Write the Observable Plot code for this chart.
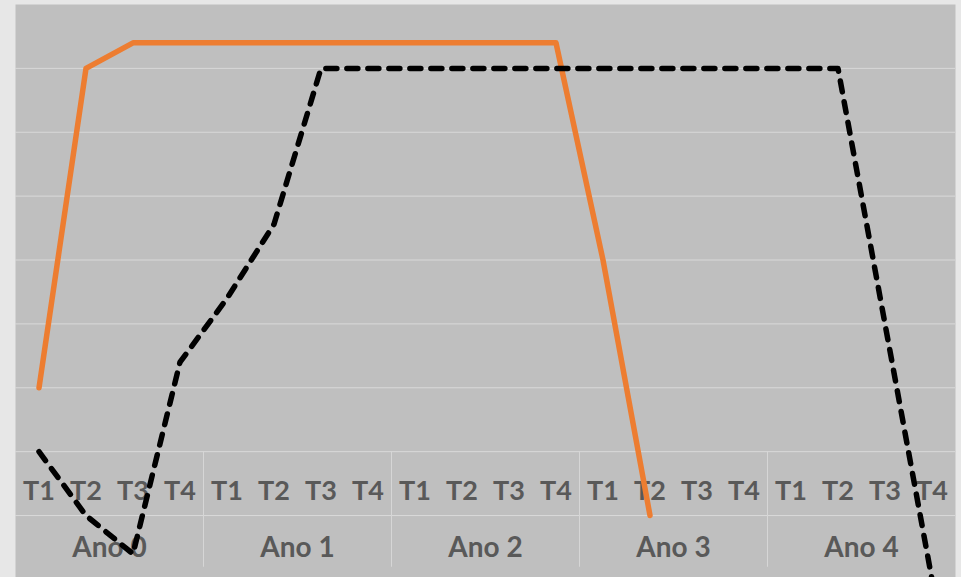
<!DOCTYPE html>
<html>
<head>
<meta charset="utf-8">
<script src="https://cdn.jsdelivr.net/npm/d3@7"></script>
<script src="https://cdn.jsdelivr.net/npm/@observablehq/plot@0.6"></script>
<style>
  html, body { margin: 0; padding: 0; background: #e7e7e7; }
  #chart svg { display: block; }
</style>
</head>
<body>
<div id="chart"></div>
<script>
// Category labels
const quarters = ["T1", "T2", "T3", "T4"];
const years = ["Ano 0", "Ano 1", "Ano 2", "Ano 3", "Ano 4"];

// Series values (hidden value axis, one unit per gridline)
const seriesOrange = [2, 7, 7.4, 7.4, 7.4, 7.4, 7.4, 7.4, 7.4, 7.4, 7.4, 7.4, 4, 0];
const seriesDashed = [1, 0, -0.6, 2.4, 3.4, 4.56, 7, 7, 7, 7, 7, 7, 7, 7, 7, 7, 7, 7, 3, -1];

// Gridline values
const gridValues = [0, 1, 2, 3, 4, 5, 6, 7];

// Axis-label positions in value units (category axis drawn inside the plot)
const quarterLabelY = 0.375;
const yearLabelY = -0.51;
const separatorTop = 1;
const separatorBottom = -0.81;

const categories = years.flatMap((yr, yi) => quarters.map((q, qi) => ({year: yr, quarter: q, i: yi * 4 + qi})));
const orangeRows = seriesOrange.map((v, i) => ({i, v}));
const dashedRows = seriesDashed.map((v, i) => ({i, v}));
const yearRows = years.map((yr, yi) => ({year: yr, center: yi * 4 + 1.5}));
const separators = years.slice(1).map((yr, yi) => (yi + 1) * 4 - 0.5);

const chart = Plot.plot({
  width: 961,
  height: 577,
  marginLeft: 15,
  marginRight: 6,
  marginTop: 4,
  marginBottom: 0,
  style: {background: "#e7e7e7", fontFamily: "Lato, 'Open Sans', sans-serif"},
  x: {type: "linear", domain: [-0.5, categories.length - 0.5], axis: null},
  y: {domain: [-0.97, 8], axis: null},
  marks: [
    Plot.frame({fill: "#bfbfbf", stroke: "none"}),
    Plot.ruleY(gridValues, {stroke: "#d9d9d9", strokeWidth: 1}),
    Plot.ruleX(separators, {y1: separatorTop, y2: separatorBottom, stroke: "#d6d6d6", strokeWidth: 1}),
    Plot.text(categories, {x: "i", y: quarterLabelY, text: "quarter", fill: "#595959", fontSize: 27, fontWeight: "bold"}),
    Plot.text(yearRows, {x: "center", y: yearLabelY, text: "year", fill: "#595959", fontSize: 28, fontWeight: "bold"}),
    Plot.line(orangeRows, {x: "i", y: "v", stroke: "#ED7D31", strokeWidth: 5.5, strokeLinejoin: "round", strokeLinecap: "round"}),
    Plot.line(dashedRows, {x: "i", y: "v", stroke: "#000000", strokeWidth: 5.5, strokeDasharray: "11,10", strokeLinejoin: "round", strokeLinecap: "round", clip: true})
  ]
});
document.getElementById("chart").appendChild(chart);
</script>
</body>
</html>
